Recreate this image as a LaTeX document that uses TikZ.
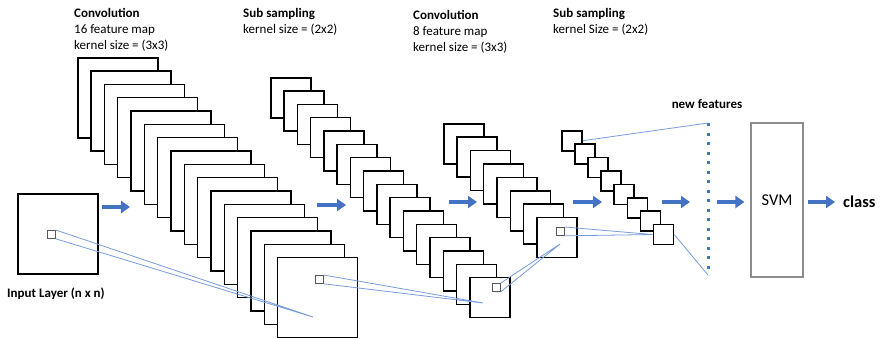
\documentclass[tikz,border=0pt]{standalone}
\usepackage{fontspec}
\setmainfont{Carlito}
\usetikzlibrary{arrows.meta}

\definecolor{flowblue}{RGB}{68,114,196}
\definecolor{linkblue}{RGB}{120,156,220}

\tikzset{
  fmap/.style={draw, fill=white, line width=1.5pt, anchor=north west, inner sep=0pt},
  pix/.style={draw=black!65, fill=white, line width=0.8pt, anchor=north west, inner sep=0pt, minimum size=8pt},
  link/.style={linkblue, line width=0.8pt},
  flow/.style={flowblue, line width=4pt, -{Triangle[length=9pt,width=12pt]}},
  title/.style={anchor=north west, align=left, inner sep=0pt, font=\fontsize{13}{16}\selectfont},
  lbl/.style={inner sep=0pt, font=\fontsize{13}{16}\selectfont\bfseries},
}

\begin{document}
\begin{tikzpicture}[x=1pt, y=-1pt]
\fill[white] (0,0) rectangle (880,338);
\useasboundingbox (0,0) rectangle (880,338);

% headings over the layers
\node[title] (hconva) at (74,8) {\textbf{Convolution}\\16 feature map\\kernel size = (3x3)};
\node[title] (hsuba) at (243,8) {\textbf{Sub sampling}\\kernel size = (2x2)};
\node[title] (hconvb) at (413,10) {\textbf{Convolution}\\8 feature map\\kernel size = (3x3)};
\node[title] (hsubb) at (553,8) {\textbf{Sub sampling}\\kernel Size = (2x2)};

% input image
\node[fmap, minimum size=80pt] (inp) at (17,193) {};
\node[pix] (inpx) at (47,230) {};
\node[lbl, anchor=base west] (inlbl) at (7,297) {Input Layer (n x n)};

% first convolution, 16 maps
\foreach \i in {0,...,15}
  \node[fmap, minimum size=80pt] (ca\i) at ({77+13.33*\i},{57+13.33*\i}) {};
\node[pix] (capx) at (315,275) {};

% first sub sampling
\foreach \i in {0,...,15}
  \node[fmap, minimum size=40pt] (sa\i) at ({270+13.27*\i},{77+13.33*\i}) {};
\node[pix] (sapx) at (492,283) {};

% second convolution, 8 maps
\foreach \i in {0,...,7}
  \node[fmap, minimum size=40pt] (cb\i) at ({443+13.3*\i},{123+13.4*\i}) {};
\node[pix] (cbpx) at (556,227) {};

% second sub sampling
\foreach \i in {0,...,7}
  \node[fmap, minimum size=20pt] (sb\i) at ({561+13.1*\i},{130+13.4*\i}) {};

% flattened features and classifier
\coordinate (nftop) at (708,123);
\coordinate (nfbot) at (708,275);
\draw[flowblue, line width=3pt, dash pattern=on 3pt off 6.5pt] (nftop) -- (nfbot);
\node[lbl, anchor=base] (nflbl) at (707,108) {new features};

\node[draw=black!45, line width=1.2pt, minimum width=52pt, minimum height=154pt,
  font=\fontsize{16.5}{18}\selectfont] (svm) at (777,200) {SVM};
\node[lbl, anchor=west, font=\fontsize{16.5}{18}\selectfont\bfseries] (cls) at (843,202) {class};

% receptive field links
\coordinate (fa) at (313,317);
\coordinate (fb) at (483,303);
\coordinate (fc) at (560,244);
\draw[link] (inpx.north east) -- (fa) (inpx.south east) -- (fa);
\draw[link] (capx.north east) -- (fb) (capx.south east) -- (fb);
\draw[link] (sapx.north east) -- (fc) (sapx.south east) -- (fc);
\draw[link] (cbpx.north east) -- (sb7.west) (cbpx.south east) -- (sb7.west);
\draw[link] (sb0.east) -- (nftop) (sb7.east) -- (nfbot);

% data flow arrows
\coordinate (aa) at (102,207);
\coordinate (ab) at (317,205);
\coordinate (ac) at (449,202);
\coordinate (ad) at (573,202);
\coordinate (ae) at (662,202);
\coordinate (af) at (717,202);
\draw[flow] (aa) -- ++(28,0);
\draw[flow] (ab) -- ++(29,0);
\draw[flow] (ac) -- ++(28,0);
\draw[flow] (ad) -- ++(29,0);
\draw[flow] (ae) -- ++(28,0);
\draw[flow, shorten >=6pt] (af) -- (af -| svm.west);
\draw[flow, shorten <=4pt, shorten >=8pt] (svm.east |- cls) -- (cls.west);
\end{tikzpicture}
\end{document}
